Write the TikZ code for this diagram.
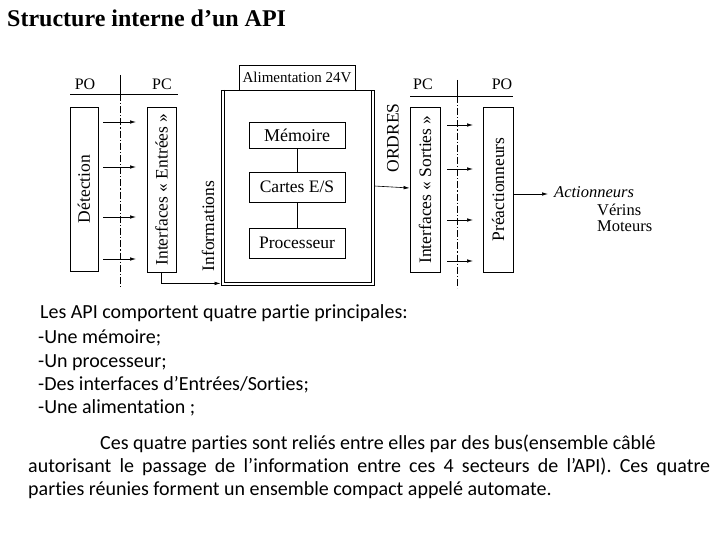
\documentclass[tikz,border=0pt]{standalone}
\usepackage{fontspec}
\setmainfont{Liberation Serif}
\newfontfamily\bodyfont{Carlito}[Ligatures={NoCommon}]
\usetikzlibrary{arrows.meta}
\begin{document}
\begin{tikzpicture}[x=1pt,y=-1pt,
  box/.style={draw, line width=0.8pt, inner sep=0pt},
  lbl/.style={font=\fontsize{17.5}{17.5}\selectfont, inner sep=0pt},
  hdr/.style={font=\fontsize{16}{16}\selectfont, inner sep=0pt},
  arr/.style={-{Latex[length=6pt,width=3.5pt]}, line width=0.6pt},
  dd/.style={dash pattern=on 7pt off 2pt on 1.2pt off 2pt, line width=0.6pt},
  bodyline/.style={anchor=base west, inner sep=0pt, font=\bodyfont\fontsize{20}{24}\selectfont}]
\useasboundingbox (0,0) rectangle (720,540);

% title
\node[anchor=base west, inner sep=0pt, font=\bfseries\fontsize{24}{26}\selectfont] (title) at (7,27) {Structure interne d’un API};

% left column
\node[hdr] (po1) at (85,84) {PO};
\node[hdr] (pc1) at (162,84) {PC};
\draw[line width=0.6pt] (70,94) -- (178,94);
\draw[line width=0.6pt] (120,75) -- (120,94);
\draw[dd] (120,94) -- (120,288);

\node[box, minimum width=28pt, minimum height=164pt] (det) at (84,189) {};
\node[lbl, rotate=90] at (det) {Détection};
\node[box, minimum width=29pt, minimum height=165pt] (ent) at (161.5,189.5) {};
\node[lbl, rotate=90] at (ent) {Interfaces « Entrées »};

\foreach \yy/\n in {122/a,167/b,217/c,259/d}{
  \coordinate (la\n) at (103,\yy);
  \coordinate (lb\n) at (136,\yy);
  \draw[arr] (la\n) -- (lb\n);
}

% central unit
\node[box, minimum width=153pt, minimum height=195pt] (main) at (297.5,187.5) {};
\draw[line width=0.6pt] (224,90) -- (224,282) -- (371,282) -- (371,90);
\node[box, minimum width=116pt, minimum height=25pt, font=\fontsize{15}{15}\selectfont] (alim) at (297,77.5) {Alimentation 24V};
\node[box, minimum width=96pt, minimum height=26pt, font=\fontsize{18}{18}\selectfont] (mem) at (297,135) {Mémoire};
\node[box, minimum width=96pt, minimum height=30pt, font=\fontsize{17.5}{17.5}\selectfont] (car) at (297,187) {Cartes E/S};
\node[box, minimum width=96pt, minimum height=30pt, font=\fontsize{17.5}{17.5}\selectfont] (pro) at (297,243) {Processeur};
\draw[line width=0.6pt] (mem) -- (car);
\draw[line width=0.6pt] (car) -- (pro);

\node[lbl, rotate=90] (info) at (208,226) {Informations};
\draw[arr] (ent.south) |- ([yshift=2pt]main.south west);

\node[lbl, rotate=90] (ord) at (393,138) {ORDRES};

% right column
\node[hdr] (pc2) at (423,84) {PC};
\node[hdr] (po2) at (502,84) {PO};
\draw[line width=0.6pt] (410,96) -- (513,96);
\draw[line width=0.6pt] (457,80) -- (457,96);
\draw[dd] (457,96) -- (457,288);

\node[box, minimum width=30pt, minimum height=165pt] (sor) at (425,189.5) {};
\node[lbl, rotate=90] at (sor) {Interfaces « Sorties »};
\node[box, minimum width=30pt, minimum height=165pt] (pre) at (498,189.5) {};
\node[lbl, rotate=90] at (pre) {Préactionneurs};

\draw[arr] ([yshift=1.5pt]main.east) -- ([yshift=1.5pt]sor.west);

\foreach \yy/\n in {125/a,169/b,220/c,261/d}{
  \coordinate (ra\n) at (447,\yy);
  \coordinate (rb\n) at (473,\yy);
  \draw[arr] (ra\n) -- (rb\n);
}

\coordinate (act) at (548,194);
\draw[arr] ([yshift=-4.5pt]pre.east) -- (act);
\node[anchor=west, inner sep=0pt, font=\itshape\fontsize{16.5}{17}\selectfont] (actl) at (554,192) {Actionneurs};
\node[anchor=west, inner sep=0pt, font=\fontsize{16.5}{17}\selectfont] (ver) at (597,210) {Vérins};
\node[anchor=west, inner sep=0pt, font=\fontsize{16.5}{17}\selectfont] (mot) at (597,226) {Moteurs};

% body text
\node[bodyline] (t1) at (40,318) {Les API comportent quatre partie principales:};
\node[bodyline] (t2) at (38,343) {-Une mémoire;};
\node[bodyline] (t3) at (38,367) {-Un processeur;};
\node[bodyline] (t4) at (38,390) {-Des interfaces d’Entrées/Sorties;};
\node[bodyline] (t5) at (38,413) {-Une alimentation ;};

\node[bodyline] (p1) at (100,449) {Ces quatre parties sont reliés entre elles par des bus(ensemble câblé};
\node[bodyline] (p2) at (28,472) {\makebox[682pt][s]{autorisant le passage de l’information entre ces 4 secteurs de l’API). Ces quatre}};
\node[bodyline] (p3) at (28,495) {parties réunies forment un ensemble compact appelé automate.};
\end{tikzpicture}
\end{document}
